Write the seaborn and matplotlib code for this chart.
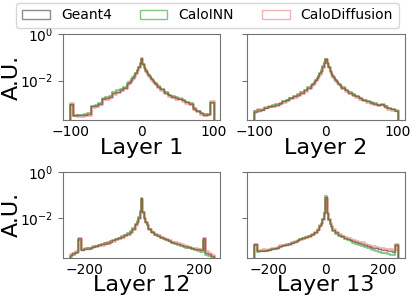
import numpy as np
import pandas as pd
import matplotlib
matplotlib.use("Agg")
import matplotlib.pyplot as plt
from matplotlib.patches import Patch
from matplotlib.ticker import NullLocator
import seaborn as sns

# bin edges: finer bins around the centre
edges_small = np.concatenate([np.arange(-101, -21, 5), np.arange(-21, 21, 2), np.arange(21, 102, 5)])
edges_large = np.concatenate([np.arange(-252.5, -22.5, 10), np.arange(-22.5, 22.5, 5), np.arange(22.5, 253, 10)])

# bin contents, in units of 1e-4 (A.U.)
l1_geant4 = [10, 3.2, 3.2, 3.3, 3.4, 3.6, 7.9, 8.5, 10, 17, 18, 20, 29, 34, 40, 50,
             70, 80, 92, 110, 135, 165, 210, 280, 380, 560, 900, 520, 360, 270, 205, 170, 140, 115, 95, 82, 72,
             56, 42, 30, 24, 20, 18, 17, 15, 12, 10, 6.3, 5, 4, 3.4, 3.6, 12]
l1_caloinn = [9, 3.0, 3.4, 3.5, 3.6, 4.0, 8.2, 9.0, 11, 16, 19, 22, 31, 38, 45, 55,
              76, 86, 99, 118, 142, 172, 218, 290, 390, 570, 870, 540, 370, 280, 212, 176, 146, 120, 100, 87, 76,
              60, 45, 32, 25, 21, 19, 16, 15.5, 12.5, 10.5, 6.8, 5.2, 4.2, 3.6, 3.4, 11]
l1_calodiff = [11, 3.5, 3.0, 3.1, 3.3, 3.4, 7.5, 8.0, 9.5, 18, 17, 19, 27, 32, 38, 48,
               67, 77, 88, 106, 130, 160, 205, 275, 375, 550, 920, 510, 350, 265, 200, 165, 135, 110, 92, 79, 69,
               53, 40, 29, 23, 19, 17, 18, 14, 11.5, 9.5, 6.0, 4.8, 3.8, 3.3, 3.8, 13]

l2_geant4 = [4.7, 5.2, 5.6, 6.8, 8, 8.3, 9.3, 10.8, 12.8, 15, 18, 21, 25, 30, 38, 50,
             62, 72, 86, 105, 130, 160, 205, 270, 400, 600, 850, 580, 390, 265, 200, 155, 126, 103, 85, 72, 62,
             50, 38, 30, 25, 21, 17.5, 15, 13, 11.5, 10, 9, 9.5, 7.5, 6.5, 5.8, 5.2]
l2_caloinn = [5.0, 5.5, 5.4, 6.5, 7.6, 8.8, 9.7, 10.3, 13.3, 15.5, 18.5, 22, 26, 31, 39, 52,
              64, 75, 89, 108, 134, 165, 212, 280, 410, 590, 820, 600, 400, 272, 206, 160, 130, 106, 88, 74, 64,
              52, 39, 31, 26, 22, 18, 15.5, 13.5, 12, 10.5, 9.3, 9, 7.8, 6.8, 6.0, 5.0]
l2_calodiff = [5.2, 5.8, 6.0, 7.4, 8.4, 8.0, 9.0, 11.2, 12.3, 14.5, 17.5, 20.5, 24, 29, 37, 48,
               60, 70, 83, 102, 126, 155, 198, 262, 390, 610, 880, 570, 380, 258, 195, 150, 122, 100, 82, 70, 60,
               48, 37, 29, 24, 20.5, 17, 14.5, 12.5, 11, 9.8, 8.8, 10, 8, 6.3, 5.5, 5.4]

l12_geant4 = [2.7, 3.2, 3.5, 13.8, 4.4, 4.7, 5.0, 5.4, 5.8, 6.3, 6.9, 7.6, 8.3, 9.1, 10, 11.2, 12.6, 14, 16.6, 19,
              22, 27, 36,
              55, 72, 105, 200, 720, 190, 100, 70, 53,
              35, 26, 21, 18, 16, 14, 12.5, 11, 9.8, 9, 8.2, 7.5, 6.8, 6.2, 5.7, 5.3, 4.9, 4.6, 4.3, 14,
              3.4, 2.9, 2.4]
l12_caloinn = [2.2, 2.8, 3.3, 12, 4.2, 4.8, 5.2, 5.3, 6.0, 6.5, 7.2, 7.8, 8.6, 9.4, 10.3, 11.5, 13, 14.5, 17, 19.5,
               23, 28, 37,
               57, 75, 110, 210, 760, 195, 102, 70, 52,
               34, 25, 20, 17, 15, 13, 11.8, 10.2, 9.0, 8.3, 7.5, 6.8, 6.1, 5.6, 5.1, 4.7, 4.3, 4.0, 3.7, 12,
               2.8, 2.3, 1.9]
l12_calodiff = [3.0, 3.4, 4.0, 14.5, 5.0, 5.2, 5.4, 5.6, 6.2, 6.6, 7.0, 7.4, 8.5, 9.0, 10.2, 11, 12.4, 14.2, 16, 18.5,
                21.5, 26, 35,
                54, 71, 103, 195, 700, 195, 104, 72, 55,
                36, 27, 22, 18.5, 16.5, 14.5, 13, 11.5, 10, 9.4, 8.5, 7.8, 7.2, 6.5, 6.0, 5.6, 5.2, 4.9, 4.6, 15,
                3.8, 3.1, 2.7]

l13_geant4 = [7.7, 4.0, 4.0, 4.1, 4.3, 4.5, 4.8, 5.2, 5.6, 6.2, 7.0, 7.3, 8.0, 9.0, 10, 11.2, 12.6, 14, 15.5, 17.5,
              20.5, 25, 33,
              48, 62, 95, 175, 800, 170, 92, 60, 46,
              32, 25, 20, 17, 15, 13, 12, 10.5, 9.5, 8.7, 8.0, 7.2, 6.6, 6.0, 5.6, 5.2, 4.8, 4.5, 4.2, 4.0,
              3.8, 3.6, 7.5]
l13_caloinn = [7.0, 3.6, 3.8, 3.9, 4.1, 4.4, 4.6, 5.0, 5.4, 5.9, 6.4, 7.0, 7.8, 8.8, 9.8, 11, 12.4, 13.8, 15.2, 17.2,
               20, 24.5, 32,
               47, 60, 92, 170, 950, 165, 88, 57, 43,
               29, 22, 18, 15.2, 13.3, 11.5, 10.5, 9.0, 8.0, 7.2, 6.5, 5.8, 5.2, 4.7, 4.3, 3.9, 3.6, 3.3, 3.1, 2.9,
               2.8, 2.7, 7.0]
l13_calodiff = [8.0, 4.5, 4.3, 4.8, 4.5, 5.0, 5.2, 5.6, 6.0, 6.9, 7.4, 7.6, 8.2, 9.4, 10.5, 11.8, 13.2, 14.6, 16, 18,
                21, 26, 34,
                50, 64, 97, 180, 780, 178, 96, 63, 48,
                34, 26.5, 21, 18, 16, 14, 13, 11.5, 10.5, 9.5, 9.2, 8.0, 7.4, 6.8, 6.6, 5.8, 5.6, 5.2, 5.0, 4.6,
                4.8, 4.4, 8.0]

layer_names = ["Layer 1", "Layer 2", "Layer 12", "Layer 13"]
layer_edges = [edges_small, edges_small, edges_large, edges_large]
layer_xlim = [110, 110, 275, 275]
series_names = ["Geant4", "CaloINN", "CaloDiffusion"]
layer_data = [
    [l1_geant4, l1_caloinn, l1_calodiff],
    [l2_geant4, l2_caloinn, l2_calodiff],
    [l12_geant4, l12_caloinn, l12_calodiff],
    [l13_geant4, l13_caloinn, l13_calodiff],
]

styles = [
    dict(color="black", alpha=0.45, linewidth=1.0),
    dict(color="tab:green", alpha=0.6, linewidth=1.3),
    dict(color="tab:red", alpha=0.35, linewidth=2.0),
]

fig, axes = plt.subplots(2, 2, figsize=(4.15, 3.02), dpi=100, sharey=True)
fig.subplots_adjust(left=0.152, right=0.975, top=0.887, bottom=0.146, wspace=0.17, hspace=0.6)

for ax, name, edges, lim, series in zip(axes.flat, layer_names, layer_edges, layer_xlim, layer_data):
    centers = 0.5 * (edges[:-1] + edges[1:])
    # one empty bin on each side so the step drops at the edges
    plot_edges = [edges[0] - 5] + list(edges) + [edges[-1] + 5]
    for vals, st in zip(series, styles):
        df = pd.DataFrame({"x": centers, "w": np.array(vals) * 1e-4})
        sns.histplot(data=df, x="x", weights="w", bins=plot_edges,
                     element="step", fill=False, ax=ax, **st)
    ax.set_yscale("log")
    ax.set_ylim(2e-4, 1)
    ax.set_xlim(-lim, lim)
    ax.set_yticks([1e-2, 1])
    ax.yaxis.set_minor_locator(NullLocator())
    ax.set_xlabel(name, fontsize=16, labelpad=-1)
    ax.set_ylabel("")
    ax.tick_params(labelsize=10, color="0.45")
    ax.tick_params(axis="x", length=0)
    for sp in ax.spines.values():
        sp.set_color("0.45")

for ax in axes[:, 0]:
    ax.set_ylabel("A.U.", fontsize=16)
    ax.yaxis.set_label_coords(-0.26, 0.5)
for ax in axes[:, 1]:
    ax.tick_params(labelleft=False)

handles = [Patch(facecolor="none", edgecolor=st["color"], alpha=st["alpha"], linewidth=1.0, label=n)
           for n, st in zip(series_names, styles)]
fig.legend(handles=handles, loc="upper center", ncol=3, fontsize=10,
           bbox_to_anchor=(0.5, 1.0), borderaxespad=0.2)

fig.savefig("out.png", dpi=100)
